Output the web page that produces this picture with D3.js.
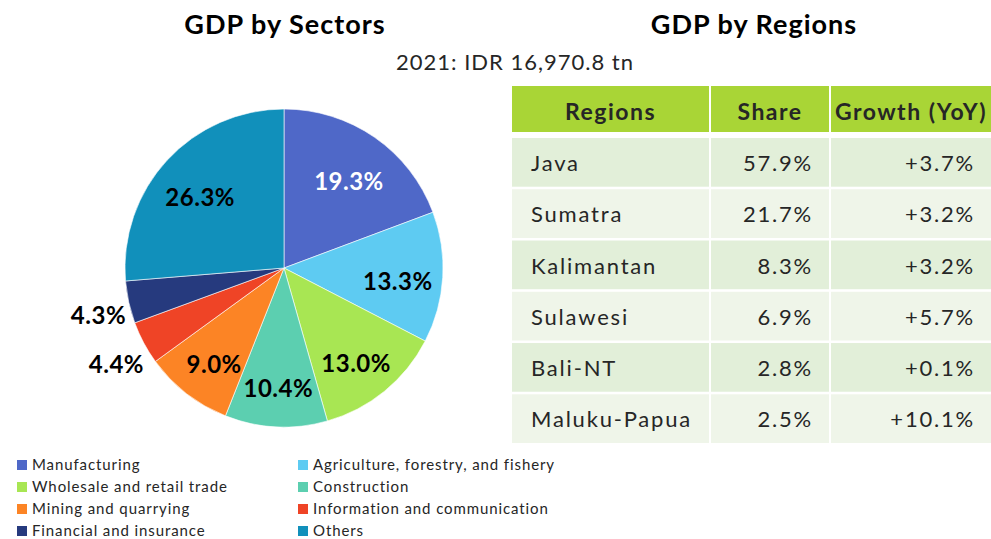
<!DOCTYPE html>
<html>
<head>
<meta charset="utf-8">
<script src="https://cdn.jsdelivr.net/npm/d3@7"></script>
<style>
  body { margin: 0; background: #fff; }
  text { font-family: Lato, "Open Sans", sans-serif; }
</style>
</head>
<body>
<div id="svg"></div>
<script>
// sectors (pie)
var sectors = ["Manufacturing", "Agriculture, forestry, and fishery", "Wholesale and retail trade", "Construction",
               "Mining and quarrying", "Information and communication", "Financial and insurance", "Others"];
var sectorShare = [19.3, 13.3, 13.0, 10.4, 9.0, 4.4, 4.3, 26.3];
var sectorColors = ["#4f68c8", "#5ecbf2", "#a8e653", "#5ccfb0", "#fc8425", "#ef4426", "#263a7e", "#1190bb"];

// regions (table)
var tableHead = ["Regions", "Share", "Growth (YoY)"];
var regions = ["Java", "Sumatra", "Kalimantan", "Sulawesi", "Bali-NT", "Maluku-Papua"];
var regionShare = ["57.9%", "21.7%", "8.3%", "6.9%", "2.8%", "2.5%"];
var regionGrowth = ["+3.7%", "+3.2%", "+3.2%", "+5.7%", "+0.1%", "+10.1%"];

var width = 991, height = 539;
var svg = d3.select("#svg").append("svg")
    .attr("width", width)
    .attr("height", height);

// titles
svg.append("text").attr("x", 285).attr("y", 34).attr("text-anchor", "middle")
    .style("font-size", "27px").style("font-weight", "bold").style("letter-spacing", "1px").attr("fill", "#000")
    .text("GDP by Sectors");
svg.append("text").attr("x", 754).attr("y", 34).attr("text-anchor", "middle")
    .style("font-size", "27px").style("font-weight", "bold").style("letter-spacing", "1px").attr("fill", "#000")
    .text("GDP by Regions");
svg.append("text").attr("x", 515).attr("y", 70).attr("text-anchor", "middle")
    .style("font-size", "22px").style("letter-spacing", "1px").attr("fill", "#262626")
    .text("2021: IDR 16,970.8 tn");

// ---- pie
var r = 159;
var pieG = svg.append("g").attr("transform", "translate(284,268)");
var pie = d3.pie().sort(null).value(function(d) { return d; });
var arcs = pie(sectorShare);
var arc = d3.arc().innerRadius(0).outerRadius(r);
var inLabel = d3.arc().innerRadius(114).outerRadius(114);
var outLabel = d3.arc().innerRadius(190).outerRadius(190);

pieG.selectAll("path.slice").data(arcs).enter().append("path")
    .attr("class", "slice")
    .attr("d", arc)
    .attr("fill", function(d, i) { return sectorColors[i]; })
    .attr("stroke", "#fff")
    .attr("stroke-width", 0.6);

pieG.selectAll("text.lbl").data(arcs).enter().append("text")
    .attr("class", "lbl")
    .attr("transform", function(d) {
      var c = d.data < 5 ? outLabel.centroid(d) : inLabel.centroid(d);
      return "translate(" + c[0] + "," + (c[1] + 7) + ")";
    })
    .attr("text-anchor", "middle")
    .attr("dy", "0.35em")
    .style("font-size", "24px").style("font-weight", "bold").style("letter-spacing", "0.5px")
    .attr("fill", function(d, i) { return i === 0 ? "#fff" : "#000"; })
    .text(function(d) { return d.data.toFixed(1) + "%"; });

// ---- legend
var legX = d3.scaleOrdinal().domain([0, 1]).range([17, 298]);
var legY = d3.scalePoint().domain(d3.range(4)).range([465, 531]);
var leg = svg.append("g").selectAll("g").data(sectors).enter().append("g")
    .attr("transform", function(d, i) { return "translate(" + legX(i % 2) + "," + legY(Math.floor(i / 2)) + ")"; });
leg.append("rect").attr("x", 0).attr("y", -5).attr("width", 10).attr("height", 10)
    .attr("fill", function(d, i) { return sectorColors[i]; });
leg.append("text").attr("x", 15).attr("dy", "0.35em")
    .style("font-size", "15px").style("letter-spacing", "0.9px").attr("fill", "#262626")
    .text(function(d) { return d; });

// ---- table
var cols = [{x0: 512, x1: 709, align: "start"}, {x0: 711, x1: 829, align: "end"}, {x0: 831, x1: 991, align: "end"}];
var rowY = d3.scaleBand().domain(regions).range([138, 443]).paddingInner(0.05);

var head = svg.append("g");
head.selectAll("rect").data(tableHead).enter().append("rect")
    .attr("x", function(d, i) { return cols[i].x0; })
    .attr("y", 86).attr("height", 46)
    .attr("width", function(d, i) { return cols[i].x1 - cols[i].x0; })
    .attr("fill", "#a9d536");
head.selectAll("text").data(tableHead).enter().append("text")
    .attr("x", function(d, i) { return (cols[i].x0 + cols[i].x1) / 2; })
    .attr("y", 112).attr("dy", "0.35em").attr("text-anchor", "middle")
    .style("font-size", "23px").style("font-weight", "bold").style("letter-spacing", "1.5px").attr("fill", "#262626")
    .text(function(d) { return d; });

var rows = svg.append("g").selectAll("g").data(regions).enter().append("g")
    .attr("transform", function(d) { return "translate(0," + rowY(d) + ")"; });
rows.each(function(reg, ri) {
  var g = d3.select(this);
  var vals = [reg, regionShare[ri], regionGrowth[ri]];
  cols.forEach(function(c, ci) {
    g.append("rect").attr("x", c.x0).attr("y", 0)
      .attr("width", c.x1 - c.x0).attr("height", rowY.bandwidth())
      .attr("fill", ri % 2 === 0 ? "#e2efd9" : "#eff5e9");
    g.append("text")
      .attr("x", c.align === "start" ? c.x0 + 19 : c.x1 - 16)
      .attr("y", rowY.bandwidth() / 2 + 1).attr("dy", "0.35em")
      .attr("text-anchor", c.align)
      .style("font-size", "22px").style("letter-spacing", "1.8px").attr("fill", "#262626")
      .text(vals[ci]);
  });
});
</script>
</body>
</html>
